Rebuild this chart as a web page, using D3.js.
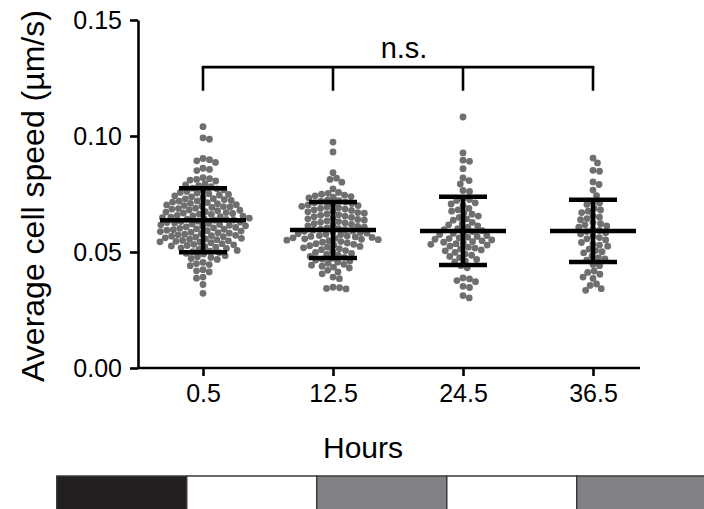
<!DOCTYPE html>
<html>
<head>
<meta charset="utf-8">
<script src="https://cdn.jsdelivr.net/npm/d3@7"></script>
<style>
  body { margin: 0; background: #fff; }
  svg { display: block; font-family: "Liberation Sans", Arial, sans-serif; }
</style>
</head>
<body>
<svg width="704" height="509"></svg>
<script>
// categories (hours) and per-cell speeds
var hours = ["0.5", "12.5", "24.5", "36.5"];

var speed0 = [0.1040, 0.0992, 0.0986,
  0.0903, 0.0898, 0.0893, 0.0886,
  0.0861, 0.0856, 0.0851,
  0.0820, 0.0816, 0.0813, 0.0810, 0.0806,
  0.0793, 0.0789, 0.0786, 0.0782,
  0.0775, 0.0772, 0.0768, 0.0765, 0.0761,
  0.0757, 0.0754, 0.0751, 0.0748, 0.0745, 0.0742, 0.0738,
  0.0734, 0.0730, 0.0729, 0.0726, 0.0722, 0.0720, 0.0719, 0.0715, 0.0713,
  0.0710, 0.0708, 0.0704, 0.0703, 0.0700, 0.0698, 0.0696, 0.0694, 0.0692, 0.0689,
  0.0687, 0.0685, 0.0681, 0.0680, 0.0678, 0.0674, 0.0672, 0.0670, 0.0668, 0.0666, 0.0663,
  0.0662, 0.0658, 0.0656, 0.0655, 0.0652, 0.0650, 0.0648, 0.0646, 0.0644, 0.0642, 0.0640, 0.0638,
  0.0637, 0.0633, 0.0631, 0.0629, 0.0627, 0.0625, 0.0623, 0.0621, 0.0619, 0.0617, 0.0615, 0.0613,
  0.0612, 0.0608, 0.0606, 0.0604, 0.0602, 0.0600, 0.0598, 0.0596, 0.0594, 0.0592, 0.0590, 0.0588,
  0.0585, 0.0583, 0.0581, 0.0579, 0.0577, 0.0574, 0.0572, 0.0570, 0.0568, 0.0566, 0.0564,
  0.0561, 0.0559, 0.0557, 0.0555, 0.0553, 0.0550, 0.0548, 0.0546, 0.0544, 0.0542, 0.0540,
  0.0536, 0.0533, 0.0531, 0.0528, 0.0526, 0.0523, 0.0521, 0.0518, 0.0515,
  0.0511, 0.0507, 0.0504, 0.0501, 0.0497, 0.0494, 0.0491,
  0.0484, 0.0480, 0.0476, 0.0472, 0.0468,
  0.0455, 0.0450, 0.0446, 0.0441,
  0.0424, 0.0419, 0.0414,
  0.0392, 0.0387,
  0.0360,
  0.0322];

var speed12 = [0.0974, 0.0931, 0.0842, 0.0818, 0.0813, 0.0801, 0.0772,
  0.0757, 0.0753, 0.0749, 0.0745, 0.0742, 0.0739, 0.0736, 0.0733,
  0.0724, 0.0721, 0.0718, 0.0715, 0.0712, 0.0709, 0.0706, 0.0703, 0.0700,
  0.0697, 0.0694, 0.0691, 0.0688, 0.0685, 0.0682, 0.0679, 0.0676, 0.0673, 0.0670,
  0.0667, 0.0664, 0.0661, 0.0658, 0.0655, 0.0652, 0.0649, 0.0646, 0.0643, 0.0640,
  0.0637, 0.0634, 0.0631, 0.0628, 0.0625, 0.0622, 0.0619, 0.0616, 0.0613, 0.0610, 0.0607,
  0.0604, 0.0601, 0.0599, 0.0596, 0.0594, 0.0591, 0.0589, 0.0586, 0.0584, 0.0581, 0.0579, 0.0576, 0.0574,
  0.0571, 0.0569, 0.0567, 0.0565, 0.0563, 0.0561, 0.0559, 0.0557, 0.0555, 0.0553, 0.0551, 0.0549,
  0.0545, 0.0542, 0.0539, 0.0536, 0.0533, 0.0530, 0.0527, 0.0524, 0.0521, 0.0518,
  0.0514, 0.0510, 0.0506, 0.0502, 0.0498, 0.0494, 0.0490, 0.0486,
  0.0481, 0.0477, 0.0473, 0.0469, 0.0465, 0.0461, 0.0457,
  0.0451, 0.0447, 0.0443, 0.0439, 0.0435, 0.0431,
  0.0421, 0.0414, 0.0406,
  0.0392, 0.0385,
  0.0348, 0.0346, 0.0343, 0.0341];

var speed24 = [0.1082, 0.0927, 0.0896, 0.0891, 0.0859, 0.0819, 0.0808, 0.0793, 0.0765, 0.0761,
  0.0731, 0.0726, 0.0722, 0.0712, 0.0707, 0.0701,
  0.0688, 0.0682, 0.0676, 0.0669, 0.0663,
  0.0655, 0.0649, 0.0643, 0.0637,
  0.0628, 0.0622, 0.0617, 0.0612, 0.0607,
  0.0601, 0.0596, 0.0592, 0.0588, 0.0584, 0.0580,
  0.0575, 0.0571, 0.0567, 0.0564, 0.0561, 0.0558, 0.0555, 0.0552,
  0.0548, 0.0545, 0.0542, 0.0539, 0.0536, 0.0533, 0.0530,
  0.0525, 0.0521, 0.0517, 0.0513, 0.0509, 0.0505,
  0.0498, 0.0492, 0.0486, 0.0481, 0.0476,
  0.0468, 0.0462, 0.0457,
  0.0441, 0.0432,
  0.0388, 0.0384, 0.0377, 0.0372,
  0.0352, 0.0347,
  0.0312, 0.0302];

var speed36 = [0.0905, 0.0884, 0.0852, 0.0848, 0.0802, 0.0791, 0.0767, 0.0743,
  0.0716, 0.0711, 0.0705,
  0.0688, 0.0681, 0.0676, 0.0670,
  0.0656, 0.0650, 0.0644, 0.0639,
  0.0627, 0.0622, 0.0617, 0.0612, 0.0607,
  0.0598, 0.0593, 0.0588, 0.0583, 0.0578,
  0.0568, 0.0562, 0.0557, 0.0552,
  0.0541, 0.0535, 0.0530, 0.0525,
  0.0512, 0.0506, 0.0501, 0.0496,
  0.0482, 0.0476, 0.0470, 0.0465,
  0.0446, 0.0441,
  0.0418, 0.0412, 0.0404,
  0.0392, 0.0386,
  0.0362, 0.0356,
  0.0342, 0.0335];

var speeds = [speed0, speed12, speed24, speed36];

// mean and SD as drawn
var means = [0.0637, 0.0595, 0.0591, 0.0591];
var sds = [0.0138, 0.0121, 0.0147, 0.0134];

var yTicks = [0, 0.05, 0.10, 0.15];

// light/dark phases in hours along the bottom strip
var phaseEdges = [-13, -1, 11, 23, 35, 47];
var phaseKinds = ["dark", "light", "grey", "light", "grey"];

var svg = d3.select("svg");
var phaseColor = { dark: "#231f20", light: "#ffffff", grey: "#808285" };

var x = d3.scalePoint().domain(hours).range([138, 658]).padding(0.5);
var y = d3.scaleLinear().domain([0, 0.15]).range([368, 20]);
var hx = d3.scaleLinear().domain([0.5, 36.5]).range([x("0.5"), x("36.5")]);

// y axis
var yAxis = svg.append("g")
    .attr("transform", "translate(138,0)")
    .call(d3.axisLeft(y).tickValues(yTicks).tickFormat(d3.format(".2f")).tickSize(8).tickPadding(8).tickSizeOuter(0));
yAxis.select(".domain").attr("stroke-width", 2.6);
yAxis.selectAll(".tick line").attr("stroke-width", 2.6);
yAxis.selectAll("text").attr("font-size", 25).attr("fill", "#000");

// x axis
var xAxis = svg.append("g")
    .attr("transform", "translate(0,368)")
    .call(d3.axisBottom(x).tickSize(8).tickPadding(8).tickSizeOuter(0));
xAxis.select(".domain").attr("d", "M138,0H640").attr("stroke-width", 2.6);
xAxis.selectAll(".tick line").attr("stroke-width", 2.6);
xAxis.selectAll("text").attr("font-size", 25).attr("fill", "#000");

svg.append("text")
    .attr("transform", "translate(44,196) rotate(-90)")
    .attr("text-anchor", "middle")
    .attr("font-size", 32)
    .text("Average cell speed (µm/s)");

svg.append("text")
    .attr("x", 363).attr("y", 458)
    .attr("text-anchor", "middle")
    .attr("font-size", 30)
    .text("Hours");

// beeswarm placement
var r = 3.4;
function swarm(values, cx) {
  var pts = values.map(function(v) { return { v: v, y: y(v) }; })
    .sort(function(a, b) { return a.y - b.y; });
  var placed = [];
  var d = 2 * r * 0.97;
  pts.forEach(function(p) {
    var cands = [0];
    placed.forEach(function(q) {
      var dy = p.y - q.y;
      if (Math.abs(dy) < d) {
        var dx = Math.sqrt(d * d - dy * dy);
        cands.push(q.dx + dx, q.dx - dx);
      }
    });
    cands.sort(function(a, b) { return Math.abs(a) - Math.abs(b); });
    for (var i = 0; i < cands.length; i++) {
      var c = cands[i];
      var ok = placed.every(function(q) {
        return (q.dx - c) * (q.dx - c) + (q.y - p.y) * (q.y - p.y) >= d * d - 0.01;
      });
      if (ok) { p.dx = c; break; }
    }
    placed.push(p);
  });
  pts.forEach(function(p) { p.x = cx + p.dx; });
  return pts;
}

var groups = svg.append("g").selectAll("g")
  .data(hours)
  .enter().append("g");

groups.selectAll("circle")
  .data(function(h, i) { return swarm(speeds[i], x(h)); })
  .enter().append("circle")
    .attr("cx", function(d) { return d.x; })
    .attr("cy", function(d) { return d.y; })
    .attr("r", r)
    .attr("fill", "#6f6f6f");

// mean +/- SD
groups.each(function(h, i) {
  var g = d3.select(this), cx = x(h);
  var m = means[i], s = sds[i];
  g.append("line").attr("x1", cx).attr("x2", cx).attr("y1", y(m + s)).attr("y2", y(m - s));
  g.append("line").attr("x1", cx - 43).attr("x2", cx + 43).attr("y1", y(m)).attr("y2", y(m));
  g.append("line").attr("x1", cx - 24).attr("x2", cx + 24).attr("y1", y(m + s)).attr("y2", y(m + s));
  g.append("line").attr("x1", cx - 24).attr("x2", cx + 24).attr("y1", y(m - s)).attr("y2", y(m - s));
  g.selectAll("line").attr("stroke", "#000").attr("stroke-width", 4.5);
});

// n.s. bracket
var br = svg.append("g").attr("fill", "none").attr("stroke", "#000").attr("stroke-width", 2.6);
br.append("line").attr("x1", x(hours[0]) - 1.3).attr("x2", x(hours[3]) + 1.3).attr("y1", y(0.1297)).attr("y2", y(0.1297));
br.selectAll(".leg").data(hours).enter().append("line")
    .attr("x1", function(h) { return x(h); }).attr("x2", function(h) { return x(h); })
    .attr("y1", y(0.1297)).attr("y2", y(0.1195));
svg.append("text")
    .attr("x", 404).attr("y", y(0.1336))
    .attr("text-anchor", "middle")
    .attr("font-size", 29)
    .text("n.s.");

// light/dark strip
svg.append("g").selectAll("rect")
  .data(phaseKinds)
  .enter().append("rect")
    .attr("x", function(k, i) { return hx(phaseEdges[i]); })
    .attr("width", function(k, i) { return hx(phaseEdges[i + 1]) - hx(phaseEdges[i]); })
    .attr("y", 476).attr("height", 36)
    .attr("fill", function(k) { return phaseColor[k]; })
    .attr("stroke", "#3a3a3a").attr("stroke-width", 1.5);
</script>
</body>
</html>
